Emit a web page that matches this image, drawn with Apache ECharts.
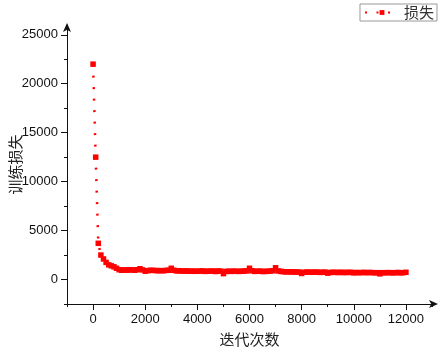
<!DOCTYPE html>
<html>
<head>
<meta charset="utf-8">
<script src="https://cdn.jsdelivr.net/npm/echarts@6/dist/echarts.min.js"></script>
<style>
  html, body { margin: 0; padding: 0; background: #fff; }
  #chart { width: 448px; height: 352px; }
</style>
</head>
<body>
<div id="chart"></div>
<script>
// iteration number of each recorded point
const iterations = [
  0, 100, 200, 300, 400, 500, 600, 700, 800, 900,
  1000, 1100, 1200, 1300, 1400, 1500, 1600, 1700, 1800, 1900,
  2000, 2100, 2200, 2300, 2400, 2500, 2600, 2700, 2800, 2900,
  3000, 3100, 3200, 3300, 3400, 3500, 3600, 3700, 3800, 3900,
  4000, 4100, 4200, 4300, 4400, 4500, 4600, 4700, 4800, 4900,
  5000, 5100, 5200, 5300, 5400, 5500, 5600, 5700, 5800, 5900,
  6000, 6100, 6200, 6300, 6400, 6500, 6600, 6700, 6800, 6900,
  7000, 7100, 7200, 7300, 7400, 7500, 7600, 7700, 7800, 7900,
  8000, 8100, 8200, 8300, 8400, 8500, 8600, 8700, 8800, 8900,
  9000, 9100, 9200, 9300, 9400, 9500, 9600, 9700, 9800, 9900,
  10000, 10100, 10200, 10300, 10400, 10500, 10600, 10700, 10800, 10900,
  11000, 11100, 11200, 11300, 11400, 11500, 11600, 11700, 11800, 11900,
  12000
]

// training loss
const loss = [
  22000, 12500, 3700, 2500, 2100, 1750, 1500, 1400, 1300, 1150,
  1000, 950, 980, 960, 1000, 980, 950, 1000, 1100, 980,
  850, 900, 950, 930, 920, 900, 910, 900, 930, 950,
  1150, 950, 880, 900, 870, 860, 880, 850, 860, 840,
  850, 860, 880, 830, 850, 860, 870, 820, 880, 850,
  600, 820, 850, 830, 860, 840, 830, 850, 870, 880,
  1150, 900, 830, 850, 860, 820, 830, 840, 870, 900,
  1200, 880, 830, 800, 780, 790, 770, 780, 760, 770,
  620, 740, 760, 750, 740, 760, 750, 730, 740, 760,
  650, 720, 740, 730, 720, 740, 710, 730, 720, 740,
  680, 720, 700, 710, 730, 700, 720, 710, 690, 700,
  580, 700, 690, 710, 700, 680, 700, 720, 690, 700,
  740
]

const yMajorTicks = [0, 5000, 10000, 15000, 20000, 25000]
const yMinorTicks = [-2500, 2500, 7500, 12500, 17500, 22500]
const xMajorTicks = [0, 2000, 4000, 6000, 8000, 10000, 12000]
const xMinorTicks = [-1000, 1000, 3000, 5000, 7000, 9000, 11000, 13000]

const labelFont = {
  fontFamily: 'Liberation Sans',
  fontSize: 13,
  color: '#111'
}
const nameFont = {
  fontFamily: 'Noto Sans CJK SC',
  fontSize: 15,
  color: '#222'
}

const chart = echarts.init(document.getElementById('chart'), null, {
  renderer: 'canvas'
})

const option = {
  backgroundColor: '#fff',
  animation: false,
  grid: {
    left: 67,
    right: 16,
    top: 25,
    bottom: 48,
    containLabel: false,
    outerBoundsMode: 'none'
  },
  legend: {
    data: ['损失'],
    right: 11,
    top: 4,
    padding: [1, 3, 1, 4],
    borderColor: '#999',
    borderWidth: 1,
    itemWidth: 34,
    itemHeight: 6,
    itemGap: 4,
    textStyle: { fontFamily: 'Noto Sans CJK SC', fontSize: 15, color: '#333' }
  },
  xAxis: [
    {
      type: 'value',
      min: -1000,
      max: 13000,
      name: '迭代次数',
      nameLocation: 'middle',
      nameGap: 28,
      nameMoveOverlap: false,
      nameTextStyle: nameFont,
      splitLine: { show: false },
      axisLine: {
        onZero: false,
        symbol: ['none', 'arrow'],
        symbolSize: [6, 9],
        symbolOffset: [0, 6],
        lineStyle: { color: '#111', width: 1 }
      },
      axisTick: {
        customValues: xMajorTicks,
        length: 6,
        lineStyle: { color: '#111' }
      },
      axisLabel: {
        customValues: xMajorTicks,
        margin: 9,
        formatter: (v) => String(v),
        ...labelFont
      }
    },
    {
      type: 'value',
      position: 'bottom',
      min: -1000,
      max: 13000,
      splitLine: { show: false },
      axisLine: { show: false, onZero: false },
      axisTick: {
        customValues: xMinorTicks,
        length: 3,
        lineStyle: { color: '#111' }
      },
      axisLabel: { show: false }
    }
  ],
  yAxis: [
    {
      type: 'value',
      min: -2500,
      max: 26000,
      name: '训练损失',
      nameLocation: 'middle',
      nameGap: 44,
      nameMoveOverlap: false,
      nameTextStyle: nameFont,
      splitLine: { show: false },
      axisLine: {
        show: true,
        onZero: false,
        symbol: ['none', 'arrow'],
        symbolSize: [6, 9],
        symbolOffset: [0, 2],
        lineStyle: { color: '#111', width: 1 }
      },
      axisTick: {
        show: true,
        customValues: yMajorTicks,
        length: 6,
        lineStyle: { color: '#111' }
      },
      axisLabel: {
        customValues: yMajorTicks,
        margin: 9,
        formatter: (v) => String(v),
        ...labelFont
      }
    },
    {
      type: 'value',
      position: 'left',
      min: -2500,
      max: 26000,
      splitLine: { show: false },
      axisLine: { show: false, onZero: false },
      axisTick: {
        show: true,
        customValues: yMinorTicks,
        length: 3,
        lineStyle: { color: '#111' }
      },
      axisLabel: { show: false }
    }
  ],
  series: [
    {
      name: '损失',
      type: 'line',
      xAxisIndex: 0,
      yAxisIndex: 0,
      data: iterations.map((it, i) => [it, loss[i]]),
      symbol: 'rect',
      symbolSize: 5.5,
      showAllSymbol: true,
      itemStyle: { color: '#ff0000' },
      lineStyle: { color: '#ff0000', width: 2.5, type: [2, 9.5] }
    }
  ]
}

chart.setOption(option)
</script>
</body>
</html>
